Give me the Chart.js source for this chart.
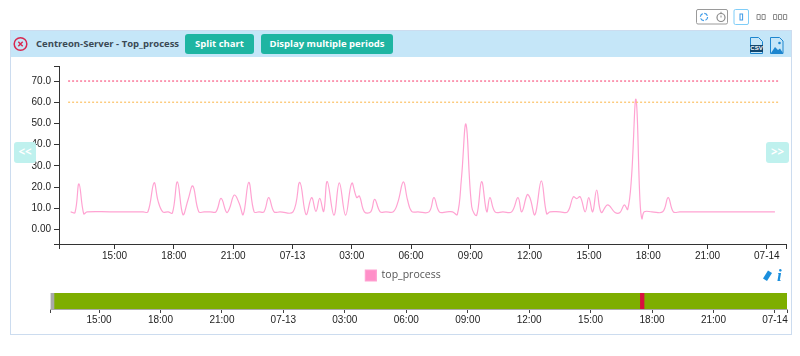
<!DOCTYPE html>
<html>
<head>
<meta charset="utf-8">
<title>Top_process</title>
<script src="https://cdn.jsdelivr.net/npm/chart.js@4/dist/chart.umd.min.js"></script>
<style>
    html, body { margin: 0; padding: 0; background: #fff; width: 800px; height: 356px; overflow: hidden; }
    canvas { position: absolute; }
    .panel { position: absolute; left: 10px; top: 30px; width: 780px; height: 303px; border: 1px solid #ccdcef; }
    .header { position: absolute; left: 11px; top: 31px; width: 780px; height: 26px; background: #c5e6f8; }
    .title { position: absolute; left: 36px; top: 37px; font: 700 9.5px/14px "Open Sans", sans-serif; color: #3b4a55; white-space: nowrap; }
    .btn { position: absolute; top: 34px; height: 20px; background: #1eb5a2; border-radius: 3px; color: #fff;
        font: 700 9.5px/20px "Open Sans", sans-serif; text-align: center; white-space: nowrap; }
    .nav { position: absolute; top: 142px; width: 22px; height: 21px; background: #bff1ee; border-radius: 3px; color: #fff;
        font: 700 11.5px/20px "Open Sans", sans-serif; text-align: center; }
    svg { position: absolute; overflow: visible; }
    .info { position: absolute; left: 777px; top: 267px; font: italic 700 17px/17px "Liberation Serif", serif; color: #1b8fdd; }
    .csv { position: absolute; left: 750px; top: 45px; width: 13px; background: #12476f; color: #fff;
        font: 700 6px/7px "Liberation Sans", sans-serif; text-align: center; }
</style>
</head>
<body>
<div class="panel"></div>
<div class="header"></div>

<svg style="left:0;top:0" width="800" height="60">
    <!-- close icon -->
    <circle cx="20.5" cy="44" r="6.3" fill="none" stroke="#d8274f" stroke-width="1.5"/>
    <path d="M18.3 41.8l4.4 4.4M22.7 41.8l-4.4 4.4" stroke="#d8274f" stroke-width="1.4"/>
    <!-- refresh / timer box -->
    <rect x="696.5" y="9.5" width="31" height="14.5" rx="1.5" fill="#fff" stroke="#9a9a9a" stroke-width="1"/>
    <circle cx="704" cy="17" r="3.6" fill="none" stroke="#3f9be8" stroke-width="1.2" stroke-dasharray="4 1.6"/>
    <circle cx="721" cy="17.5" r="4" fill="none" stroke="#8a8a8a" stroke-width="1.2"/>
    <path d="M721 11.800v1.600M721 15.500v2" stroke="#8a8a8a" stroke-width="1"/>
    <!-- column layout buttons -->
    <rect x="734" y="9.5" width="14.5" height="15" rx="1.5" fill="#fff" stroke="#7fcdf8" stroke-width="1"/>
    <rect x="740" y="14" width="2.6" height="6" fill="none" stroke="#3f9be8" stroke-width="1"/>
    <path d="M757 14.5h3.2v5h-3.2zM762 14.5h3.2v5h-3.2zM773.5 14.5h3.2v5h-3.2zM778.5 14.5h3.2v5h-3.2zM783.5 14.5h3.2v5h-3.2z" fill="none" stroke="#8d8d8d" stroke-width="1"/>
    <!-- csv icon -->
    <path d="M750.5 37.5h8l4 4v12h-12z" fill="#c5e6f8" stroke="#1d86cf" stroke-width="1"/>
    <!-- image icon -->
    <path d="M770.5 37.5h9l3.5 3.5v12.5h-12.5z" fill="#c5e6f8" stroke="#1d86cf" stroke-width="1"/>
    <path d="M771 53l4-6 3 3 2-1.5 3 4.5z" fill="#1d86cf"/>
    <circle cx="779.5" cy="43" r="1.3" fill="#1d86cf"/>
</svg>
<div class="csv">CSV</div>

<div class="title">Centreon-Server - Top_process</div>
<div class="btn" style="left:185px;width:69px">Split chart</div>
<div class="btn" style="left:261px;width:132px">Display multiple periods</div>

<canvas id="mainChart" width="800" height="231" style="left:0;top:60px"></canvas>
<canvas id="statusChart" width="800" height="39" style="left:0;top:293px"></canvas>

<div class="nav" style="left:14px">&lt;&lt;</div>
<div class="nav" style="left:766px;width:23px">&gt;&gt;</div>

<svg style="left:0;top:0" width="800" height="300">
    <path d="M768 270.500l4 2.500-5 8-4-2.500z" fill="#1b8fdd"/>
</svg>
<div class="info">i</div>

<script>
// hours counted from 07-12 00:00
const processHours = [
    12.78, 13.00, 13.20, 13.44, 13.61, 14.77, 15.78, 16.44, 16.69, 17.00,
    17.20, 17.44, 17.71, 17.93, 18.18, 18.46, 18.72, 18.96, 19.26, 19.53,
    19.83, 20.13, 20.39, 20.67, 20.82, 21.06, 21.30, 21.51, 21.79, 22.06,
    22.31, 22.56, 22.80, 23.07, 23.37, 24.03, 24.37, 24.69, 24.97, 25.19,
    25.38, 25.58, 25.76, 26.10, 26.37, 26.69, 27.00, 27.25, 27.39, 27.64,
    27.96, 28.16, 28.44, 28.73, 29.10, 29.34, 29.61, 29.82, 30.03, 30.35,
    30.91, 31.16, 31.43, 31.82, 32.10, 32.34, 32.55, 32.78, 33.07, 33.32,
    33.57, 33.83, 33.99, 34.25, 34.65, 35.09, 35.41, 35.60, 35.88, 36.02,
    36.27, 36.59, 36.86, 37.03, 37.53, 37.92, 38.21, 38.38, 38.56, 38.81,
    38.99, 39.19, 39.39, 39.62, 39.95, 40.32, 40.57, 40.79, 40.96, 41.15,
    41.38, 41.58, 41.68, 41.80, 42.19, 42.73, 43.01, 43.27, 43.60, 45.63,
    48.41
];
const processValues = [
    8.3, 8.0, 21.5, 7.4, 8.3, 8.3, 8.3, 8.3, 8.3, 22.0,
    13.5, 8.3, 8.3, 7.8, 22.4, 7.0, 14.0, 20.5, 8.3, 8.3,
    8.3, 8.3, 14.6, 8.0, 10.0, 16.2, 12.5, 7.0, 22.2, 8.3,
    8.3, 8.3, 15.0, 8.3, 8.3, 8.3, 22.2, 7.0, 15.0, 8.5,
    14.6, 8.5, 22.6, 6.7, 22.0, 6.7, 21.8, 15.0, 15.8, 8.3,
    8.3, 14.2, 8.3, 8.3, 8.3, 13.0, 22.4, 14.0, 8.5, 8.3,
    8.3, 15.0, 8.3, 8.3, 8.3, 7.0, 24.0, 49.6, 10.7, 6.7,
    22.6, 8.3, 15.0, 8.3, 8.3, 8.3, 15.0, 8.3, 16.4, 14.8,
    6.9, 22.9, 7.4, 8.3, 8.3, 8.3, 15.4, 14.5, 15.4, 8.3,
    15.0, 8.3, 18.6, 8.0, 11.6, 8.0, 8.0, 11.6, 9.4, 24.0,
    61.4, 14.0, 5.0, 8.3, 8.3, 8.3, 15.0, 8.3, 8.3, 8.3,
    8.3
];
const thresholdHours = [12.65, 48.61];
const criticalValues = [70, 70];
const warningValues = [60, 60];

const valueTicks = [0, 10, 20, 30, 40, 50, 60, 70];
const valueLabels = ["0.00", "10.0", "20.0", "30.0", "40.0", "50.0", "60.0", "70.0"];
const timeTicks = [15, 18, 21, 24, 27, 30, 33, 36, 39, 42, 45, 48];
const timeLabels = ["15:00", "18:00", "21:00", "07-13", "03:00", "06:00", "09:00", "12:00", "15:00", "18:00", "21:00", "07-14"];

const statusStarts = [12.63, 12.80, 41.40, 41.61];
const statusEnds = [12.80, 41.40, 41.61, 48.59];
const statusColors = ["#a9a9a9", "#7eae00", "#d8103f", "#7eae00"];

Chart.defaults.animation = false;
Chart.defaults.responsive = false;
Chart.defaults.font.family = '"Liberation Sans", Arial, sans-serif';
Chart.defaults.font.size = 10;
Chart.defaults.color = "#222";

function toPoints(xs, ys) {
    return xs.map(function (x, i) {
        return { x: x, y: ys[i] };
    });
}

// ticks at the domain ends stay unlabelled, like a d3 axis
function withEnds(scale, values) {
    scale.ticks = [{ value: scale.min }]
        .concat(values.map(function (v) { return { value: v }; }))
        .concat([{ value: scale.max }]);
}

function labelFor(values, labels, value) {
    const i = values.indexOf(value);
    return i === -1 ? "" : labels[i];
}

new Chart(document.getElementById("mainChart"), {
    type: "line",
    data: {
        datasets: [
            {
                label: "critical",
                data: toPoints(thresholdHours, criticalValues),
                borderColor: "#f9668c",
                borderWidth: 1.3,
                borderDash: [2, 2],
                pointRadius: 0,
            },
            {
                label: "warning",
                data: toPoints(thresholdHours, warningValues),
                borderColor: "#fcc56e",
                borderWidth: 1.3,
                borderDash: [2, 2],
                pointRadius: 0,
            },
            {
                label: "top_process",
                data: toPoints(processHours, processValues),
                borderColor: "#ffa3d2",
                backgroundColor: "#ff8fc8",
                borderWidth: 1.2,
                tension: 0.4,
                pointRadius: 0,
            },
        ],
    },
    options: {
        layout: { padding: { top: 6, right: 14, left: 20 } },
        plugins: {
            tooltip: { enabled: false },
            legend: {
                position: "bottom",
                labels: {
                    boxWidth: 11,
                    boxHeight: 11,
                    padding: 4,
                    color: "#555",
                    font: { family: '"Open Sans", sans-serif', size: 10.5 },
                    filter: function (item) {
                        return item.text === "top_process";
                    },
                },
            },
        },
        scales: {
            x: {
                type: "linear",
                min: 12.19,
                max: 48.97,
                afterBuildTicks: function (scale) {
                    withEnds(scale, timeTicks);
                },
                afterFit: function (scale) {
                    scale.height = 22;
                    scale.paddingLeft = 0;
                    scale.paddingRight = 0;
                },
                grid: { drawOnChartArea: false, color: "#333", tickLength: 5 },
                border: { color: "#333" },
                ticks: {
                    autoSkip: false,
                    maxRotation: 0,
                    padding: 1,
                    callback: function (value) {
                        return labelFor(timeTicks, timeLabels, value);
                    },
                },
            },
            y: {
                min: -6.88,
                max: 77.1,
                afterBuildTicks: function (scale) {
                    withEnds(scale, valueTicks);
                },
                afterFit: function (scale) {
                    scale.width = 39;
                    scale.paddingTop = 0;
                    scale.paddingBottom = 0;
                },
                grid: { drawOnChartArea: false, color: "#333", tickLength: 5 },
                border: { color: "#333" },
                ticks: {
                    autoSkip: false,
                    padding: 3,
                    callback: function (value) {
                        return labelFor(valueTicks, valueLabels, value);
                    },
                },
            },
        },
    },
});

new Chart(document.getElementById("statusChart"), {
    type: "bar",
    data: {
        labels: ["status"],
        datasets: statusStarts.map(function (start, i) {
            return {
                label: "status " + i,
                data: [[start, statusEnds[i]]],
                backgroundColor: statusColors[i],
                grouped: false,
                barPercentage: 1,
                categoryPercentage: 1,
            };
        }),
    },
    options: {
        indexAxis: "y",
        layout: { padding: { left: 50.5, right: 13 } },
        plugins: { legend: { display: false }, tooltip: { enabled: false } },
        scales: {
            x: {
                type: "linear",
                min: 12.63,
                max: 48.59,
                afterBuildTicks: function (scale) {
                    withEnds(scale, timeTicks);
                },
                afterFit: function (scale) {
                    scale.height = 23;
                },
                grid: { drawOnChartArea: false, color: "#444", tickLength: 4 },
                border: { color: "#aaa" },
                ticks: {
                    autoSkip: false,
                    maxRotation: 0,
                    padding: 1,
                    callback: function (value) {
                        return labelFor(timeTicks, timeLabels, value);
                    },
                },
            },
            y: { display: false },
        },
    },
});
</script>
</body>
</html>
